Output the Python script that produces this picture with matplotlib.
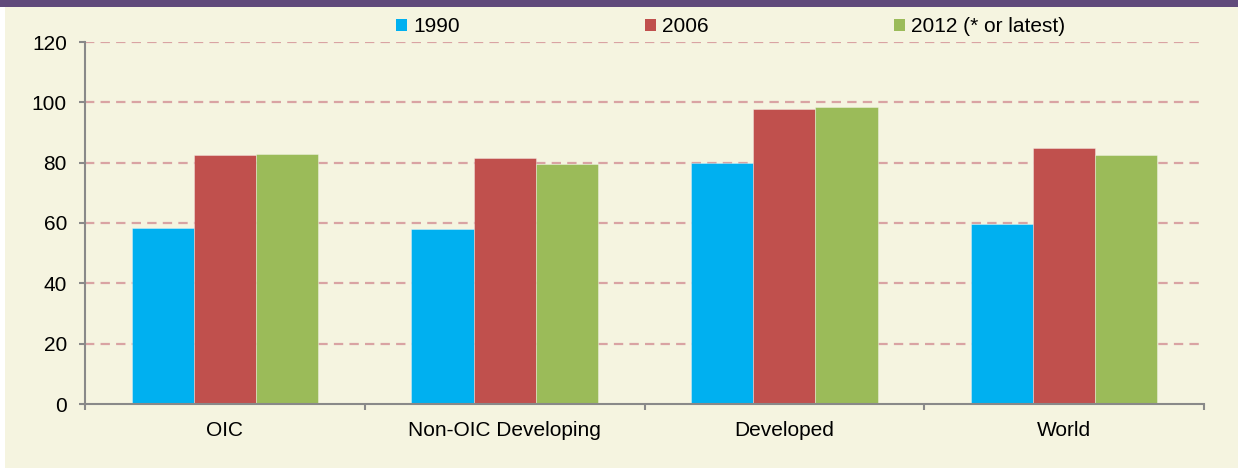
import matplotlib
matplotlib.use("Agg")
import matplotlib.pyplot as plt
from matplotlib.patches import Rectangle, Patch
import numpy as np

plt.rcParams['font.family'] = ['Liberation Sans', 'DejaVu Sans']

categories = ["OIC", "Non-OIC Developing", "Developed", "World"]
series_names = ["1990", "2006", "2012 (* or latest)"]
values_1990 = [58.2, 58.0, 79.9, 59.7]
values_2006 = [82.5, 81.5, 97.8, 84.8]
values_2012 = [82.9, 79.5, 98.4, 82.7]
y_ticks = [0, 20, 40, 60, 80, 100, 120]

colors = ["#00B0F0", "#C0504D", "#9BBB59"]
bg = "#F5F4E0"
band = "#604A7B"
FS = 15

W, H = 1238, 470
fig = plt.figure(figsize=(W / 100, H / 100), dpi=100, facecolor="white")

# page panel and header band, kept behind the axes
fig.add_artist(Rectangle((5 / W, 2 / H), 1 - 5 / W, 1 - 9 / H,
                         transform=fig.transFigure, facecolor=bg,
                         edgecolor="none", zorder=-10))
fig.add_artist(Rectangle((0, 1 - 7 / H), 1, 7 / H,
                         transform=fig.transFigure, facecolor=band,
                         edgecolor="none", zorder=-10))

left, right = 85 / W, 1204 / W
bottom, top = 1 - 404 / H, 1 - 42 / H
ax = fig.add_axes([left, bottom, right - left, top - bottom])
ax.set_facecolor("none")
ax.set_zorder(1)

x = np.arange(len(categories))
bw = 0.222
series = [values_1990, values_2006, values_2012]
for i, (vals, c, name) in enumerate(zip(series, colors, series_names)):
    ax.bar(x + (i - 1) * bw, vals, width=bw, color=c, edgecolor=(1, 1, 1, 0.35),
           linewidth=0.7, zorder=3, label=name)

ax.set_xlim(-0.5, len(categories) - 0.5)
ax.set_ylim(0, 120)
ax.set_yticks(y_ticks)
ax.set_yticklabels([str(v) for v in y_ticks])

ax.set_xticks(x)
ax.set_xticklabels(categories)
ax.set_xticks(np.arange(len(categories) + 1) - 0.5, minor=True)

grid_c = "#D9A3A3"
for v in y_ticks[1:]:
    ax.axhline(v, color=grid_c, linewidth=1.6, dashes=(4.2, 2.8), zorder=1)

spine_c = "#898989"
for s in ["top", "right"]:
    ax.spines[s].set_visible(False)
for s in ["left", "bottom"]:
    ax.spines[s].set_color(spine_c)
    ax.spines[s].set_linewidth(1.5)
    ax.spines[s].set_zorder(4)

ax.tick_params(axis="y", which="major", length=4, width=1.5, color=spine_c,
               pad=9, labelsize=FS, labelcolor="black")
ax.tick_params(axis="x", which="major", length=0, pad=12, labelsize=FS,
               labelcolor="black")
ax.tick_params(axis="x", which="minor", length=4, width=1.5, color=spine_c)

handles = [Patch(facecolor=c, edgecolor="none") for c in colors]
fig.legend(handles, series_names, loc="center left",
           bbox_to_anchor=(396 / W, 1 - 27 / H), ncol=3, frameon=False,
           fontsize=FS, handlelength=0.52, handleheight=0.52,
           handletextpad=0.3, columnspacing=8.9, borderpad=0,
           borderaxespad=0)

fig.savefig("out.png", dpi=100, facecolor="white")
